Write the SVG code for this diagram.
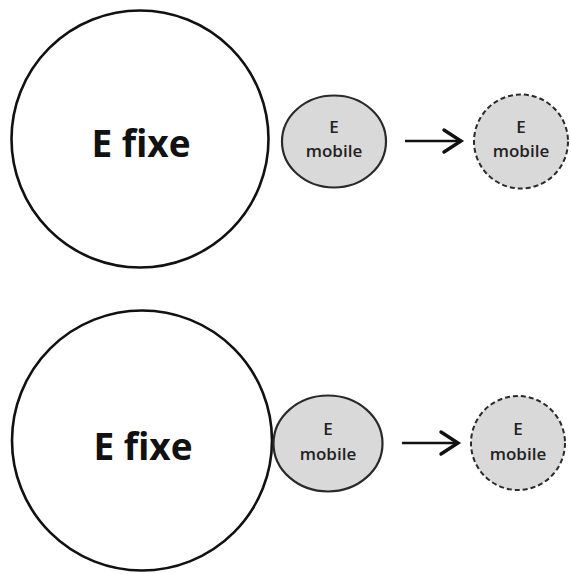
<svg xmlns="http://www.w3.org/2000/svg" width="571" height="574" viewBox="0 0 571 574">
  <style>
    .fixe { fill: #ffffff; stroke: #111111; stroke-width: 2.6; }
    .mob { fill: #d9d9d9; stroke: #2a2a2a; stroke-width: 2.2; }
    .mob-next { fill: #d9d9d9; stroke: #2a2a2a; stroke-width: 2; stroke-dasharray: 5 3; }
    .big { font-family: "Open Sans", "Liberation Sans", sans-serif; font-weight: 700; font-size: 37px; fill: #111111; text-anchor: middle; }
    .small { font-family: "Open Sans", "Liberation Sans", sans-serif; font-weight: 600; font-size: 17px; fill: #222222; text-anchor: middle; }
    .shaft { fill: none; stroke: #111111; stroke-width: 2.6; }
    .head { fill: none; stroke: #111111; stroke-width: 3.4; stroke-linecap: round; stroke-linejoin: miter; }
  </style>
  <rect width="571" height="574" fill="#ffffff"/>

  <!-- upper row -->
  <g id="fixe-top">
    <circle class="fixe" cx="140" cy="139" r="128.5"/>
    <text class="big" x="141" y="157">E fixe</text>
  </g>
  <g id="mobile-top">
    <ellipse class="mob" cx="334" cy="141.5" rx="52" ry="46"/>
    <text class="small" x="334" y="133">E</text>
    <text class="small" x="334" y="157">mobile</text>
  </g>
  <g id="mobile-top-next">
    <ellipse class="mob-next" cx="521" cy="141.5" rx="47" ry="47"/>
    <text class="small" x="521" y="133">E</text>
    <text class="small" x="521" y="157">mobile</text>
  </g>

  <!-- lower row -->
  <g id="fixe-bottom">
    <circle class="fixe" cx="142" cy="440.5" r="130"/>
    <text class="big" x="143" y="460">E fixe</text>
  </g>
  <g id="mobile-bottom">
    <ellipse class="mob" cx="328" cy="443.5" rx="54.5" ry="48"/>
    <text class="small" x="328" y="435">E</text>
    <text class="small" x="328" y="460">mobile</text>
  </g>
  <g id="mobile-bottom-next">
    <ellipse class="mob-next" cx="518" cy="443" rx="47" ry="47"/>
    <text class="small" x="518" y="435">E</text>
    <text class="small" x="518" y="460">mobile</text>
  </g>

  <!-- connectors -->
  <g id="connectors">
    <path class="shaft" d="M405 141 H459"/>
    <path class="head" d="M444 130 L461 141 L444 152"/>
    <path class="shaft" d="M402 443 H456"/>
    <path class="head" d="M441 432 L458 443 L441 454"/>
  </g>
</svg>
